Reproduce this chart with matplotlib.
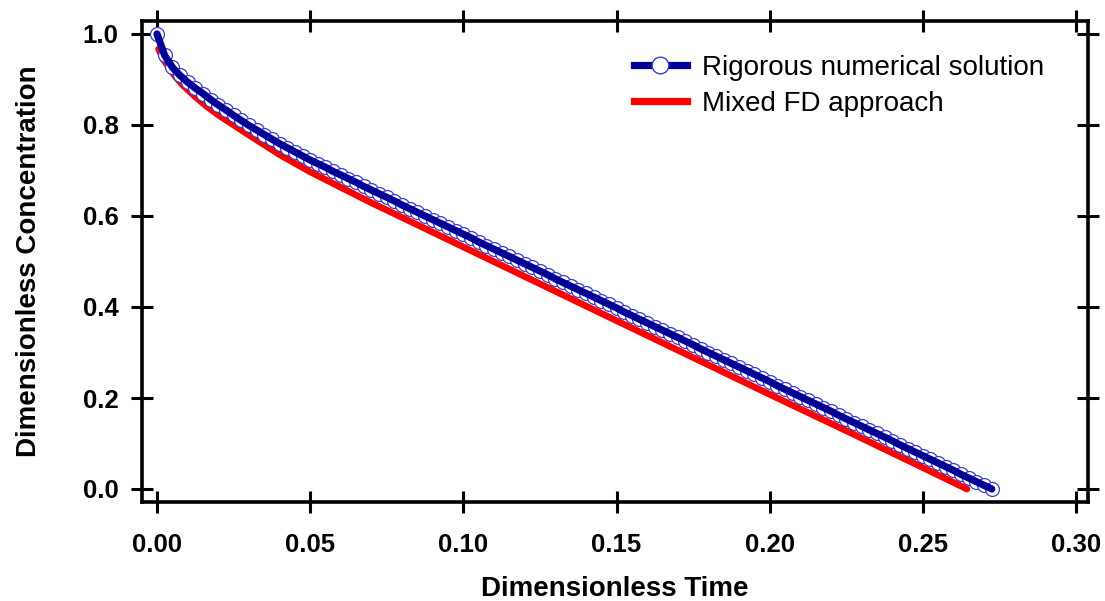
import matplotlib
matplotlib.use("Agg")
import matplotlib.pyplot as plt
from matplotlib.lines import Line2D

plt.rcParams['font.family'] = ['Liberation Sans', 'DejaVu Sans']

# ---- data ----
# Rigorous numerical solution (time step 0.0025)
rig_time = [
    0.0, 0.0025, 0.005, 0.0075, 0.01, 0.0125, 0.015, 0.0175, 0.02, 0.0225,
    0.025, 0.0275, 0.03, 0.0325, 0.035, 0.0375, 0.04, 0.0425, 0.045, 0.0475,
    0.05, 0.0525, 0.055, 0.0575, 0.06, 0.0625, 0.065, 0.0675, 0.07, 0.0725,
    0.075, 0.0775, 0.08, 0.0825, 0.085, 0.0875, 0.09, 0.0925, 0.095, 0.0975,
    0.1, 0.1025, 0.105, 0.1075, 0.11, 0.1125, 0.115, 0.1175, 0.12, 0.1225,
    0.125, 0.1275, 0.13, 0.1325, 0.135, 0.1375, 0.14, 0.1425, 0.145, 0.1475,
    0.15, 0.1525, 0.155, 0.1575, 0.16, 0.1625, 0.165, 0.1675, 0.17, 0.1725,
    0.175, 0.1775, 0.18, 0.1825, 0.185, 0.1875, 0.19, 0.1925, 0.195, 0.1975,
    0.2, 0.2025, 0.205, 0.2075, 0.21, 0.2125, 0.215, 0.2175, 0.22, 0.2225,
    0.225, 0.2275, 0.23, 0.2325, 0.235, 0.2375, 0.24, 0.2425, 0.245, 0.2475,
    0.25, 0.2525, 0.255, 0.2575, 0.26, 0.2625, 0.265, 0.2675, 0.27, 0.2725,
]
rig_conc = [
    1.000, 0.953, 0.927, 0.909, 0.894, 0.881, 0.869, 0.856, 0.844, 0.833,
    0.821, 0.810, 0.799, 0.789, 0.779, 0.769, 0.759, 0.750, 0.741, 0.732,
    0.723, 0.715, 0.707, 0.698, 0.690, 0.682, 0.674, 0.665, 0.657, 0.649,
    0.641, 0.633, 0.624, 0.616, 0.608, 0.600, 0.592, 0.584, 0.576, 0.568,
    0.560, 0.552, 0.543, 0.535, 0.527, 0.519, 0.511, 0.503, 0.495, 0.487,
    0.479, 0.471, 0.462, 0.454, 0.446, 0.438, 0.430, 0.422, 0.414, 0.406,
    0.398, 0.389, 0.381, 0.373, 0.365, 0.357, 0.349, 0.341, 0.333, 0.325,
    0.317, 0.308, 0.300, 0.292, 0.284, 0.276, 0.268, 0.260, 0.252, 0.244,
    0.236, 0.227, 0.219, 0.211, 0.203, 0.195, 0.187, 0.179, 0.171, 0.162,
    0.154, 0.146, 0.138, 0.130, 0.122, 0.114, 0.106, 0.097, 0.089, 0.081,
    0.073, 0.065, 0.057, 0.049, 0.041, 0.032, 0.024, 0.016, 0.008, 0.000,
]

# Mixed FD approach
fd_time = [0.0005, 0.002, 0.004, 0.006, 0.0085, 0.0125, 0.016, 0.02, 0.025,
           0.03, 0.04, 0.05, 0.06, 0.07, 0.075, 0.1, 0.125, 0.15, 0.175, 0.2,
           0.225, 0.25, 0.2644]
fd_conc = [0.967, 0.945, 0.925, 0.906, 0.887, 0.862, 0.842, 0.822, 0.800,
           0.778, 0.735, 0.697, 0.663, 0.629, 0.613, 0.532, 0.451, 0.370,
           0.289, 0.208, 0.128, 0.047, 0.0]

x_ticks = [0.00, 0.05, 0.10, 0.15, 0.20, 0.25, 0.30]
x_tick_labels = ["0.00", "0.05", "0.10", "0.15", "0.20", "0.25", "0.30"]
y_ticks = [0.0, 0.2, 0.4, 0.6, 0.8, 1.0]
y_tick_labels = ["0.0", "0.2", "0.4", "0.6", "0.8", "1.0"]

series_labels = ["Rigorous numerical solution", "Mixed FD approach"]
x_label = "Dimensionless Time"
y_label = "Dimensionless Concentration"

# ---- figure ----
W, H = 1105, 601
fig = plt.figure(figsize=(W / 100, H / 100), dpi=100)
ax = fig.add_axes([142 / W, 1 - 502 / H, (1088 - 142) / W, (502 - 21) / H])

navy = "#000096"
marker_edge = "#3c3cd2"
red = "#ff0000"

# red FD line
ax.plot(fd_time, fd_conc, color=red, lw=4.8, solid_capstyle='round', zorder=2)
# blue markers (white filled), then line on top
ax.plot(rig_time, rig_conc, linestyle='none', marker='o', ms=10,
        mfc='white', mec=marker_edge, mew=0.9, zorder=3)
ax.plot(rig_time, rig_conc, color=navy, lw=5.2, solid_capstyle='round', zorder=4)

ax.set_xlim(-15 / 3063, 0.30 + 12 / 3063)
ax.set_ylim(-13 / 455, 1.0 + 13 / 455)

ax.set_xticks(x_ticks)
ax.set_xticklabels(x_tick_labels)
ax.set_yticks(y_ticks)
ax.set_yticklabels(y_tick_labels)

for s in ax.spines.values():
    s.set_linewidth(2.6)
ax.tick_params(axis='both', which='major', direction='inout', length=16,
               width=2.2, top=True, right=True, labelsize=18.5)
ax.tick_params(axis='x', pad=14)
ax.tick_params(axis='y', pad=9)
for lab in ax.get_xticklabels() + ax.get_yticklabels():
    lab.set_fontweight('bold')

ax.set_xlabel(x_label, fontsize=20, fontweight='bold', labelpad=14)
ax.set_ylabel(y_label, fontsize=20, fontweight='bold', labelpad=29)

h1 = Line2D([], [], color=navy, lw=5.2, marker='o', ms=12, mfc='white',
            mec=marker_edge, mew=1.0)
h2 = Line2D([], [], color=red, lw=5.2)
fig.legend([h1, h2], series_labels, loc='upper left',
           bbox_to_anchor=(634 / W, 1 - 55 / H), frameon=False,
           fontsize=20, handlelength=1.9, handletextpad=0.55,
           labelspacing=0.36, borderpad=0, borderaxespad=0)

fig.savefig("out.png", dpi=100)
